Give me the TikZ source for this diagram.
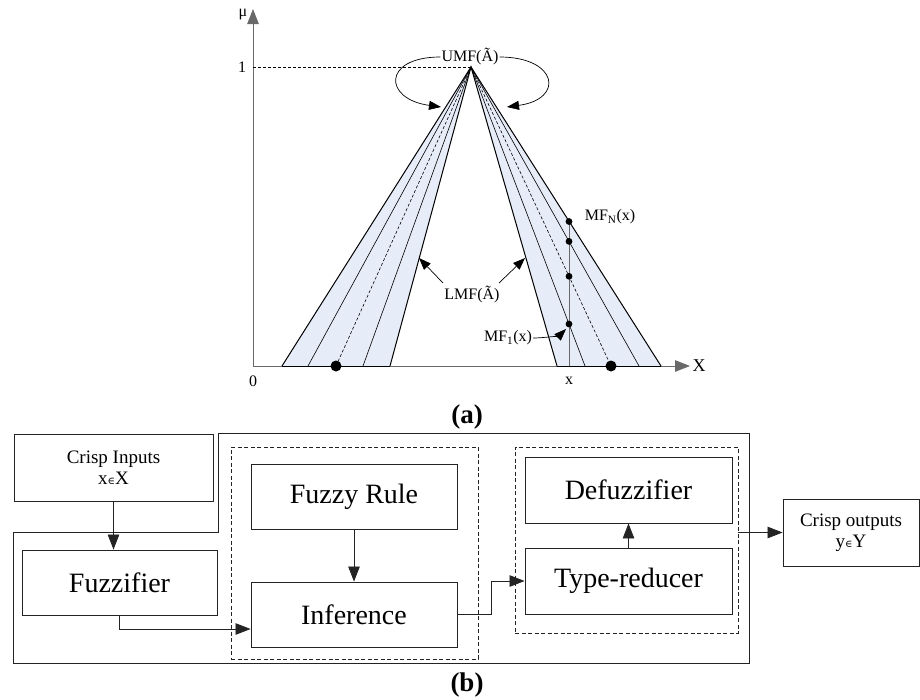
\documentclass[tikz,border=0pt]{standalone}
\usepackage{fontspec}
\setmainfont{Liberation Serif}
\newfontfamily\symfont{DejaVu Serif}
\usetikzlibrary{arrows.meta}
\definecolor{bandfill}{RGB}{230,236,248}
\definecolor{axisgray}{RGB}{105,105,105}
\definecolor{ink}{RGB}{35,35,35}
\newcommand{\elem}{{\symfont\fontsize{10}{10}\selectfont ∈}}

\begin{document}
\begin{tikzpicture}[x=1pt,y=-1pt,
  tipbig/.style={-{Triangle[length=15pt,width=11.5pt]}},
  tipsmall/.style={-{Triangle[length=12pt,width=9pt]}},
  axis/.style={draw=axisgray,line width=1pt},
  edge/.style={draw=black,line width=1pt},
  mfline/.style={draw=black,line width=0.6pt},
  dashmf/.style={draw=black,line width=0.6pt,dash pattern=on 3pt off 2pt},
  lbl/.style={font=\fontsize{16}{18}\selectfont,inner sep=1pt},
  box/.style={draw=ink,line width=0.9pt,inner sep=0pt,align=center},
  bigtxt/.style={font=\fontsize{28}{30}\selectfont},
  smalltxt/.style={font=\fontsize{19}{22}\selectfont},
  grp/.style={draw=ink,line width=0.8pt,dash pattern=on 4pt off 2.5pt,inner sep=0pt},
  conn/.style={draw=ink,line width=0.8pt},
  figcap/.style={font=\bfseries\fontsize{27}{29}\selectfont,inner sep=0pt}]
\useasboundingbox (0,0) rectangle (920,699);

% ---------- (a) interval type-2 membership function ----------
\coordinate (O) at (253,366);
\coordinate (ytop) at (253,9);
\coordinate (xend) at (690,366);
\coordinate (P) at (471,67);
\coordinate (one) at (253,67);
\foreach \n/\x in {L1/282,L2/308,L3/336,L4/363,L5/390,R1/557,R2/585,R3/611,R4/639,R5/661}
  \coordinate (\n) at (\x,366);

\fill[bandfill] (P) -- (L1) -- (L5) -- cycle;
\fill[bandfill] (P) -- (R1) -- (R5) -- cycle;

\draw[axis,tipbig] (O) -- (ytop);
\draw[axis,tipbig] (O) -- (xend);
\draw[black,line width=0.6pt,dash pattern=on 3pt off 2pt] (one) -- (P);

% embedded membership functions
\draw[mfline] (P) -- (L2) (P) -- (L4) (P) -- (R2) (P) -- (R4);
\draw[dashmf] (P) -- (L3) (P) -- (R3);
% upper and lower bounds
\draw[edge] (L1) -- (P) -- (R5);
\draw[edge] (L5) -- (P) -- (R1);
\draw[edge] (L1) -- (L5) (R1) -- (R5);

% vertical slice at x
\coordinate (xs) at (569,366);
\coordinate (xtop) at (569,221.5);
\draw[axis] (xs) -- (xtop);
\foreach \n/\y in {D4/221.5,D3/241.4,D2/276.3,D1/324}
  \fill (569,\y) circle (3.4pt) coordinate (\n);
\fill (L3) circle (5.5pt);
\fill (R3) circle (5.5pt);

% axis labels
\node[lbl] (mu) at (243,15) {μ};
\node[lbl] (onelbl) at (242,67) {1};
\node[lbl] (zero) at (253,381) {0};
\node[lbl] (xlbl) at (569,381) {x};
\node[lbl,font=\fontsize{18}{20}\selectfont] (Xlbl) at (699,366) {X};

% UMF / LMF / MF labels
\node[lbl] (umf) at (470,57) {UMF(Ã)};
\coordinate (ua) at (441,107);
\coordinate (ub) at (507,107);
\draw[black,line width=0.7pt,tipsmall] (umf.west) .. controls +(-58,0) and +(-58,-8) .. (ua);
\draw[black,line width=0.7pt,tipsmall] (umf.east) .. controls +(58,0) and +(58,-8) .. (ub);

\node[lbl] (lmf) at (472,295) {LMF(Ã)};
\coordinate (la) at (419,258);
\coordinate (lb) at (525,258);
\coordinate (ls) at (443,283);
\coordinate (lr) at (499,283);
\draw[black,line width=0.7pt,tipsmall] (ls) -- (la);
\draw[black,line width=0.7pt,tipsmall] (lr) -- (lb);

\node[lbl] (mfn) at (610,217) {MF\textsubscript{N}(x)};
\node[lbl] (mf1) at (508,338) {MF\textsubscript{1}(x)};
\coordinate (m1) at (566,329);
\draw[black,line width=0.7pt,tipsmall] (mf1.east) .. controls +(12,0) and +(-6,6) .. (m1);

\node[figcap] (capa) at (467,417) {(a)};

% ---------- (b) type-2 fuzzy logic system ----------
\draw[draw=ink,line width=0.9pt] (218,433) -- (749,433) -- (749,663) -- (13,663) -- (13,532) -- (218,532) -- cycle;

\node[grp,minimum width=247pt,minimum height=212pt] (grpA) at (354.5,553) {};
\node[grp,minimum width=223pt,minimum height=186pt] (grpB) at (626.5,540) {};

\node[box,smalltxt,minimum width=199pt,minimum height=67pt] (crispin) at (113.5,467.5) {Crisp Inputs\\[-1pt]x\elem X};
\node[box,bigtxt,minimum width=195pt,minimum height=65pt] (fuzz) at (119.5,582.5) {Fuzzifier};
\node[box,bigtxt,minimum width=206pt,minimum height=65pt] (rule) at (354,496.5) {Fuzzy Rule};
\node[box,bigtxt,minimum width=206pt,minimum height=65pt] (infer) at (354,614.5) {Inference};
\node[box,bigtxt,minimum width=207pt,minimum height=66pt] (defuzz) at (628.5,490) {Defuzzifier};
\node[box,bigtxt,minimum width=207pt,minimum height=66pt] (tred) at (628.5,581) {Type-reducer};
\node[box,smalltxt,minimum width=136pt,minimum height=67pt] (crispout) at (851,532.5) {Crisp outputs\\[-1pt]y\elem Y};

\coordinate (jf) at (0,629);
\draw[conn,tipbig] (crispin.south) -- (crispin.south |- fuzz.north);
\draw[conn,tipbig] (rule.south) -- (infer.north);
\draw[conn,tipbig] (fuzz.south) |- (infer.west |- jf);
\draw[conn,tipbig] (infer.east) -- ++(34,0) |- (tred.west);
\draw[conn,tipbig] (tred.north) -- (defuzz.south);
\draw[conn,tipbig] (grpB.east |- crispout.west) -- (crispout.west);

\node[figcap] (capb) at (467,685) {(b)};
\end{tikzpicture}
\end{document}
